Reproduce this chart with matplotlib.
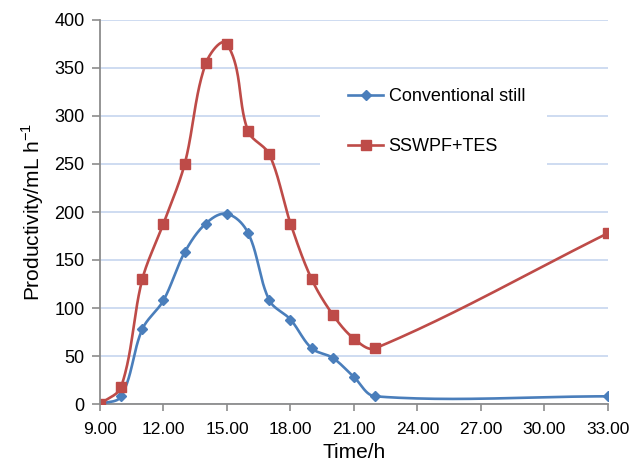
import numpy as np
import matplotlib.pyplot as plt
from matplotlib.patches import Rectangle

plt.rcParams['font.family'] = ['Liberation Sans', 'DejaVu Sans']
plt.rcParams['mathtext.fontset'] = 'custom'
plt.rcParams['mathtext.rm'] = 'Liberation Sans'

hours = [9, 10, 11, 12, 13, 14, 15, 16, 17, 18, 19, 20, 21, 22, 33]
conventional = [0, 8, 78, 108, 158, 188, 198, 178, 108, 88, 58, 48, 28, 8, 8]
sswpf_tes = [0, 18, 130, 188, 250, 355, 375, 284, 260, 188, 130, 93, 68, 58, 178]
x_ticks = [9, 12, 15, 18, 21, 24, 27, 30, 33]
y_ticks = list(range(0, 401, 50))

# pixels per unit, used so the smoothing behaves like it does on screen
SX = 508 / 24
SY = 384 / 400


def smooth(x, y, n=40):
    # bezier smoothing the way spreadsheet charts do it
    p = np.column_stack([np.asarray(x, float) * SX, np.asarray(y, float) * SY])
    k = len(p)
    tang = np.zeros_like(p)
    tang[0] = p[1] - p[0]
    tang[-1] = p[-1] - p[-2]
    tang[1:-1] = p[2:] - p[:-2]
    tang /= np.linalg.norm(tang, axis=1)[:, None]
    t = np.linspace(0, 1, n)[:, None]
    out = []
    for i in range(k - 1):
        d = np.linalg.norm(p[i + 1] - p[i]) / 3
        c1 = p[i] + tang[i] * d
        c2 = p[i + 1] - tang[i + 1] * d
        b = ((1 - t)**3 * p[i] + 3 * (1 - t)**2 * t * c1
             + 3 * (1 - t) * t**2 * c2 + t**3 * p[i + 1])
        out.append(b)
    out = np.vstack(out)
    return out[:, 0] / SX, out[:, 1] / SY


fig = plt.figure(figsize=(6.44, 4.69), dpi=100)
ax = fig.add_axes([100 / 644, 65 / 469, 508 / 644, 384 / 469])

blue = '#4a7ebb'
red = '#be4b48'

xs, ys = smooth(hours, conventional)
ax.plot(xs, ys, color=blue, lw=1.9, zorder=3, solid_capstyle='round')
ax.plot(hours, conventional, ls='none', marker='D', ms=5.5, color=blue, zorder=4)

xs, ys = smooth(hours, sswpf_tes)
ax.plot(xs, ys, color=red, lw=1.9, zorder=3, solid_capstyle='round')
ax.plot(hours, sswpf_tes, ls='none', marker='s', ms=7.5, color=red, zorder=4)

ax.set_xlim(9, 33)
ax.set_ylim(0, 400)
ax.set_xticks(x_ticks)
ax.set_xticklabels([f'{v:.2f}' for v in x_ticks])
ax.set_yticks(y_ticks)
ax.tick_params(axis='x', labelsize=12.5, length=5, width=1.2, color='#8c8c8c', pad=8)
ax.tick_params(axis='y', labelsize=13, length=6, width=1.2, color='#8c8c8c', pad=5)
ax.yaxis.grid(True, color='#c6d5ef', lw=1.2)
ax.set_axisbelow(True)
for s in ['top', 'right']:
    ax.spines[s].set_visible(False)
for s in ['left', 'bottom']:
    ax.spines[s].set_color('#8c8c8c')
    ax.spines[s].set_linewidth(1.3)
ax.spines['left'].set_zorder(5)
ax.spines['bottom'].set_zorder(2.5)

ax.set_xlabel('Time/h', fontsize=15, labelpad=4)
ax.set_ylabel('Productivity/mL h$^{-1}$', fontsize=15, labelpad=6)

# white legend area that hides the grid behind it
ax.add_patch(Rectangle((0.433, 0.60), 0.447, 0.245, transform=ax.transAxes,
                       facecolor='white', edgecolor='none', zorder=1))
ax.plot([], [], color=blue, lw=1.9, marker='D', ms=5.5, label='Conventional still')
ax.plot([], [], color=red, lw=1.9, marker='s', ms=7.5, label='SSWPF+TES')
ax.legend(loc='upper left', bbox_to_anchor=(0.488, 0.822), frameon=False,
          fontsize=13, handlelength=1.95, handletextpad=0.3,
          labelspacing=1.8, borderpad=0, borderaxespad=0)

fig.savefig('out.png', dpi=100)
